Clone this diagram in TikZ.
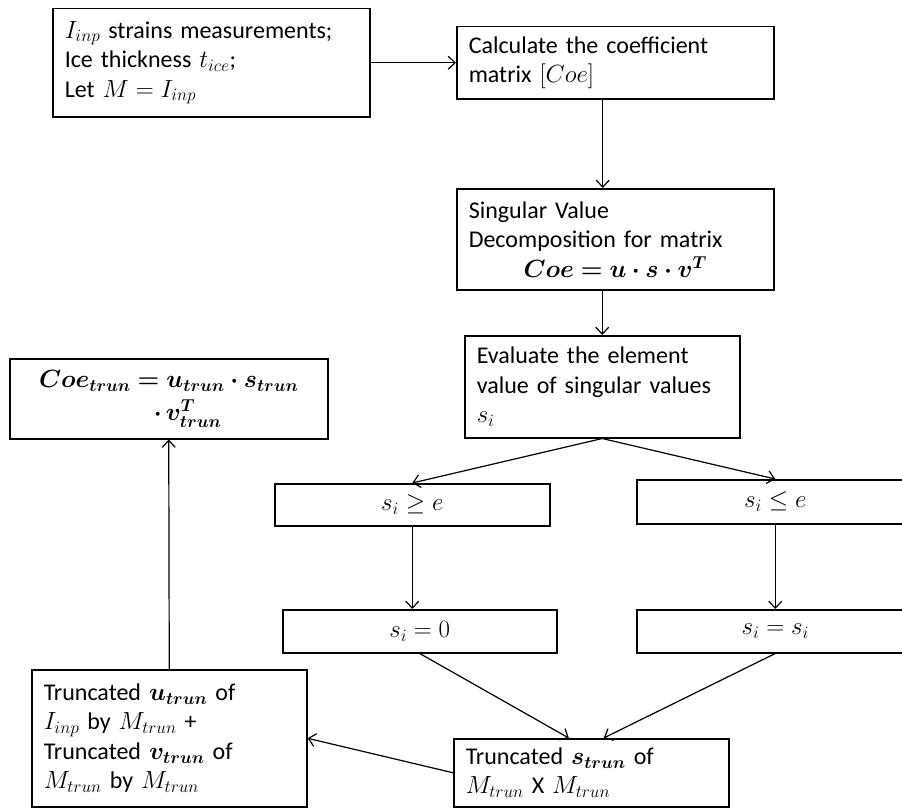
\documentclass[tikz,border=0pt]{standalone}
\usepackage{amsmath}
\usepackage{fontspec}
\setmainfont{Carlito}
\usepackage{bm}
\usetikzlibrary{arrows.meta}
\tikzset{
  box/.style={draw, line width=1.5pt, inner xsep=12pt, inner ysep=3pt, align=left,
    anchor=north west, font=\fontsize{24}{29.5}\selectfont},
  cbox/.style={box, align=flush center},
  arr/.style={draw, line width=1.2pt, -{Straight Barb[length=7pt,width=13pt,line width=1.2pt]}}
}
\begin{document}
\begin{tikzpicture}[x=1pt,y=-1pt]
\fill[white] (0,0) rectangle (902,808);
\useasboundingbox (0,0) rectangle (902,808);
\clip (0,0) rectangle (902,808);

\node[box, text width=293pt, minimum height=108pt] (inp) at (52,8)
  {$I_{inp}$ strains measurements;\\Ice thickness $t_{ice}$;\\Let $M = I_{inp}$};
\node[box, text width=293pt, minimum height=72pt] (calc) at (456,26)
  {Calculate the coefficient\\matrix $[Coe]$};
\node[box, text width=293pt, minimum height=101pt] (svd) at (456,188)
  {Singular Value\\Decomposition for matrix\\\makebox[293pt]{$\bm{Coe = u\cdot s\cdot v^{T}}$}};
\node[box, text width=251pt, minimum height=102pt] (eval) at (464,335)
  {Evaluate the element\\value of singular values\\$s_i$};
\node[cbox, text width=251pt, minimum height=42pt] (ge) at (274,483) {$s_i \geq e$};
\node[cbox, text width=253pt, minimum height=44pt] (le) at (636,479) {$s_i \leq e$};
\node[cbox, text width=250pt, minimum height=43pt] (z) at (282,609) {$s_i = 0$};
\node[cbox, text width=253pt, minimum height=43pt] (ss) at (636,609) {$s_i = s_i$};
\node[box, text width=251pt, minimum height=68pt] (strun) at (453,738)
  {Truncated $\bm{s_{trun}}$ of\\$M_{trun}$ X $M_{trun}$};
\node[box, text width=251pt, minimum height=137pt] (utrun) at (31,669)
  {Truncated $\bm{u_{trun}}$ of\\$I_{inp}$ by $M_{trun}$ +\\Truncated $\bm{v_{trun}}$ of\\$M_{trun}$ by $M_{trun}$};
\node[box, text width=294pt, minimum height=80pt, inner ysep=1pt] (coe) at (9,358)
  {\makebox[294pt]{$\bm{Coe_{trun} = u_{trun}\cdot s_{trun}}$}\\[4pt]\hspace*{132pt}$\bm{\cdot\, v_{trun}^{T}}$};

\draw[arr] (inp) -- (calc);
\draw[arr] ([xshift=-12.5pt]calc.south) -- ([xshift=-12.5pt]calc.south |- svd.north);
\draw[arr] (svd.south -| eval.north) -- (eval.north);
\draw[arr] (eval.south) -- (ge.north);
\draw[arr] (eval.south) -- (le.north);
\draw[arr] (ge.south) -- (ge.south |- z.north);
\draw[arr] (le.south) -- (le.south |- ss.north);
\draw[arr] (z.south) -- ([xshift=-22.5pt]strun.north);
\draw[arr] (ss.south) -- ([xshift=12.5pt]strun.north);
\draw[arr] (strun.west) -- (utrun.east);
\draw[arr] (utrun.north) -- (coe.south);
\end{tikzpicture}
\end{document}
